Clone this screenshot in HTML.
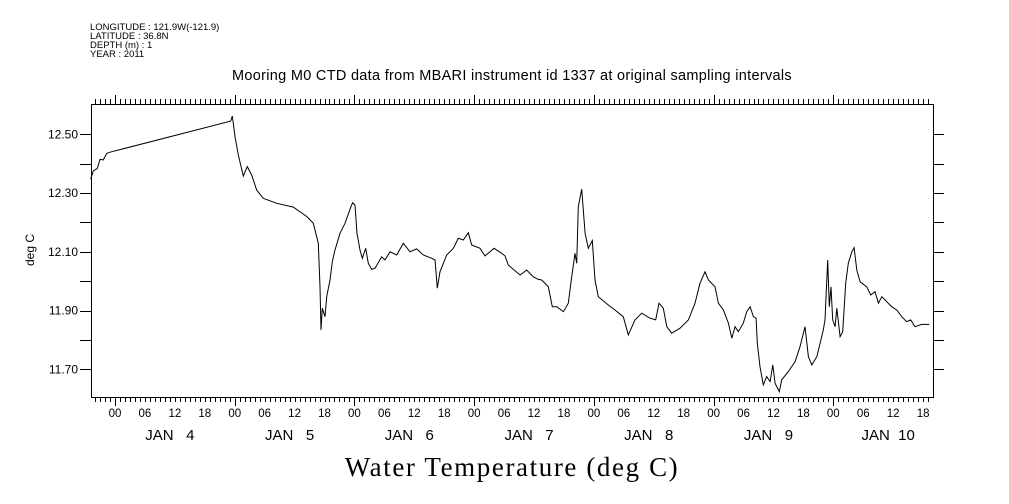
<!DOCTYPE html>
<html><head><meta charset="utf-8"><style>
body{margin:0;background:#fff;}
svg{display:block;font-family:"Liberation Sans",sans-serif;}
</style></head><body>
<svg id="chart" width="1009" height="504" xmlns="http://www.w3.org/2000/svg">
<g font-size="9.5" fill="#000">
<text x="90" y="30">LONGITUDE : 121.9W(-121.9)</text>
<text x="90" y="39">LATITUDE : 36.8N</text>
<text x="90" y="48">DEPTH (m) : 1</text>
<text x="90" y="57">YEAR : 2011</text>
</g>
<text x="512" y="80" text-anchor="middle" font-size="14.5" letter-spacing="0.3">Mooring M0 CTD data from MBARI instrument id 1337 at original sampling intervals</text>
<text transform="translate(34,250) rotate(-90)" text-anchor="middle" font-size="12">deg C</text>
<text x="512" y="476" text-anchor="middle" font-size="27" letter-spacing="1.6" font-family="'Liberation Serif',serif">Water Temperature (deg C)</text>
<rect x="91.5" y="104.5" width="842" height="293" fill="none" stroke="#000" stroke-width="1"/>
<g id="axes"></g>
<g id="marks"></g>
</svg>
<script>
const hours=[-4.87,-4.35,-3.55,-3.01,-2.35,-1.66,-1.00,23.20,23.52,23.72,24.06,24.72,25.72,26.52,27.41,28.41,29.73,32.42,35.75,38.43,39.76,40.44,40.76,41.10,41.30,41.56,42.10,42.44,43.10,43.56,44.11,45.11,46.11,47.31,47.65,48.12,48.52,49.12,49.58,50.26,50.78,51.46,52.13,53.47,54.13,55.13,56.48,57.80,59.14,60.49,61.81,63.49,64.15,64.62,65.16,66.50,67.82,68.83,69.83,70.83,71.51,73.18,74.18,75.18,75.98,77.53,78.19,78.85,79.85,81.20,82.54,83.86,84.86,85.54,86.87,87.67,88.55,89.88,90.88,91.56,92.22,92.56,92.88,93.56,94.23,94.89,95.69,96.23,96.89,98.90,100.24,101.90,102.91,104.25,105.59,107.26,108.40,109.06,109.92,110.61,111.61,113.27,114.94,116.28,117.28,118.28,118.95,120.29,120.96,121.96,122.97,123.65,124.31,124.96,125.96,126.64,127.31,127.97,128.51,128.77,129.31,129.97,130.65,131.32,131.86,132.32,133.18,133.66,134.98,136.33,137.33,138.33,139.00,139.68,140.68,141.34,142.00,142.34,142.88,143.20,143.54,143.88,144.35,144.69,145.35,145.89,146.49,147.01,147.70,148.16,148.70,149.36,150.70,151.50,152.36,153.03,153.71,154.71,155.71,156.71,157.72,158.72,159.52,160.38,161.73,163.25];
const temps=[12.347,12.375,12.384,12.415,12.413,12.435,12.439,12.545,12.562,12.537,12.492,12.430,12.358,12.390,12.361,12.310,12.282,12.265,12.252,12.220,12.197,12.151,12.129,11.981,11.834,11.908,11.879,11.947,12.004,12.066,12.106,12.163,12.197,12.254,12.267,12.259,12.163,12.106,12.078,12.112,12.061,12.040,12.044,12.083,12.072,12.100,12.089,12.129,12.100,12.110,12.089,12.078,12.072,11.976,12.032,12.089,12.112,12.146,12.140,12.165,12.123,12.112,12.086,12.100,12.112,12.095,12.086,12.055,12.040,12.021,12.038,12.015,12.006,12.004,11.981,11.913,11.913,11.896,11.925,12.015,12.095,12.061,12.254,12.313,12.163,12.112,12.138,12.004,11.947,11.919,11.902,11.879,11.817,11.868,11.891,11.874,11.868,11.925,11.908,11.845,11.823,11.840,11.868,11.925,11.993,12.032,12.004,11.981,11.925,11.902,11.857,11.806,11.845,11.828,11.857,11.896,11.913,11.879,11.874,11.789,11.709,11.647,11.675,11.658,11.715,11.652,11.624,11.664,11.692,11.726,11.777,11.845,11.743,11.715,11.743,11.789,11.834,11.868,12.072,11.913,11.981,11.868,11.845,11.908,11.811,11.828,11.993,12.061,12.100,12.114,12.038,11.998,11.981,11.953,11.964,11.925,11.947,11.930,11.913,11.902,11.879,11.862,11.868,11.845,11.853,11.853];
const yTickLabels=["12.50","12.30","12.10","11.90","11.70"];
const yTickValues=[12.5,12.3,12.1,11.9,11.7];
const hourLabels=["00","06","12","18"];
const dayLabels=["JAN   4","JAN   5","JAN   6","JAN   7","JAN   8","JAN   9","JAN  10"];

const NS="http://www.w3.org/2000/svg";
const X0=91,X1=933,Y0=104,Y1=397;
function xs(h){return 115+h*119.72/24;}
function ys(v){return 134.3+(12.5-v)*293.75;}
function mk(tag,attrs,parent){const e=document.createElementNS(NS,tag);for(const k in attrs)e.setAttribute(k,attrs[k]);parent.appendChild(e);return e;}
const axes=document.getElementById('axes');
const marks=document.getElementById('marks');
for(let h=-4;h<=164;h++){
  const x=Math.round(xs(h))+0.5;
  if(x<X0||x>X1)continue;
  const major=((h%24)+24)%24===0;
  const len=major?9:5;
  const tb=mk('line',{x1:x,x2:x,y1:Y1,y2:Y1+len,stroke:'#000'},axes);
  
  
  const tt=mk('line',{x1:x,x2:x,y1:Y0,y2:Y0-len,stroke:'#000'},axes);
  
  
  const hm=((h%24)+24)%24;
  if(hm%6===0){
    const t=mk('text',{x:xs(h),y:417,'text-anchor':'middle','font-size':'11.5'},axes);
    t.textContent=hourLabels[hm/6];
    
    
  }
}
for(let d=0;d<dayLabels.length;d++){
  const t=mk('text',{x:xs(d*24+11),y:440,'text-anchor':'middle','font-size':'15'},axes);
  t.setAttribute('style','white-space:pre');
  t.textContent=dayLabels[d];
  
  
}
for(let i=0;i<=8;i++){
  const v=12.5-i*0.1;
  const y=Math.round(ys(v))+0.5;
  const l=mk('line',{x1:X0-11,x2:X0,y1:y,y2:y,stroke:'#000'},axes);
  
  
  const r=mk('line',{x1:X1,x2:X1+11,y1:y,y2:y,stroke:'#000'},axes);
  
  
}
for(let i=0;i<yTickValues.length;i++){
  const t=mk('text',{x:78,y:ys(yTickValues[i])+4,'text-anchor':'end','font-size':'12'},axes);
  t.textContent=yTickLabels[i];
  
  
}
let d='';
for(let i=0;i<hours.length;i++){d+=(i?'L':'M')+xs(hours[i]).toFixed(1)+','+ys(temps[i]).toFixed(1);}
const p=mk('path',{d:d,fill:'none',stroke:'#000','stroke-width':'1'},marks);


</script>
</body></html>
